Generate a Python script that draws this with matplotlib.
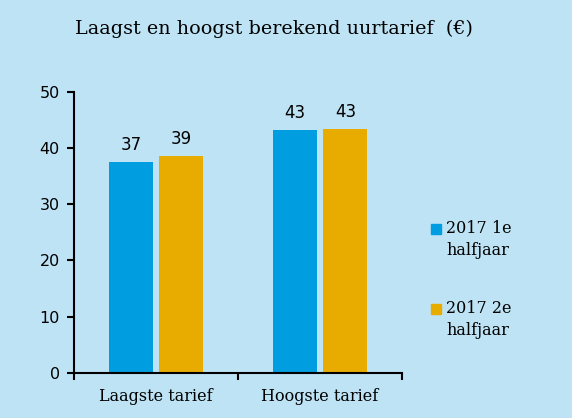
import matplotlib.pyplot as plt
from matplotlib.patches import Rectangle
import numpy as np

categories = ["Laagste tarief", "Hoogste tarief"]
series_names = ["2017 1e\nhalfjaar", "2017 2e\nhalfjaar"]
h1_values = [37.5, 43.2]
h2_values = [38.6, 43.4]
bar_labels_h1 = ["37", "43"]
bar_labels_h2 = ["39", "43"]

bg = "#BEE3F5"
blue = "#009EE0"
orange = "#E8AB00"
colors = [blue, orange]

W, H = 572, 418
fig = plt.figure(figsize=(W / 100, H / 100), dpi=100, facecolor=bg)
ax = fig.add_axes([0.129, 0.108, 0.574, 0.672], facecolor=bg)

x = np.arange(len(categories))
w = 0.268
b1 = ax.bar(x - 0.152, h1_values, w, color=blue, label=series_names[0])
b2 = ax.bar(x + 0.155, h2_values, w, color=orange, label=series_names[1])
ax.bar_label(b1, labels=bar_labels_h1, padding=6, fontsize=12, family="DejaVu Sans")
ax.bar_label(b2, labels=bar_labels_h2, padding=6, fontsize=12, family="DejaVu Sans")

ax.set_xlim(-0.5, 1.5)
ax.set_ylim(0, 50)
ax.set_yticks(range(0, 51, 10))
ax.set_xticks(x)
ax.set_xticklabels(categories, family="DejaVu Serif", fontsize=11.5)
ax.set_xticks([-0.5, 0.5, 1.5], minor=True)
ax.tick_params(axis="x", which="major", length=0, pad=11)
ax.tick_params(axis="x", which="minor", length=5, width=1.5, direction="out")
ax.tick_params(axis="y", length=5, width=1.5, labelsize=11.5, pad=5)
for lab in ax.get_yticklabels():
    lab.set_family("DejaVu Sans")

for s in ["top", "right"]:
    ax.spines[s].set_visible(False)
for s in ["left", "bottom"]:
    ax.spines[s].set_linewidth(1.5)

fig.text(0.131, 0.932, "Laagst en hoogst berekend uurtarief  (€)",
         family="DejaVu Serif", fontsize=13.8, va="center")

# legend drawn by hand: square next to first line of a two-line label
for i, (name, c) in enumerate(zip(series_names, colors)):
    top = 220 + i * 80
    fig.patches.append(Rectangle((431 / W, 1 - (top + 14) / H), 10 / W, 10 / H,
                                 transform=fig.transFigure, color=c))
    fig.text(446 / W, 1 - top / H, name, family="DejaVu Serif", fontsize=11.5,
             va="top", linespacing=1.35)

fig.savefig("out.png", dpi=100, facecolor=bg)
